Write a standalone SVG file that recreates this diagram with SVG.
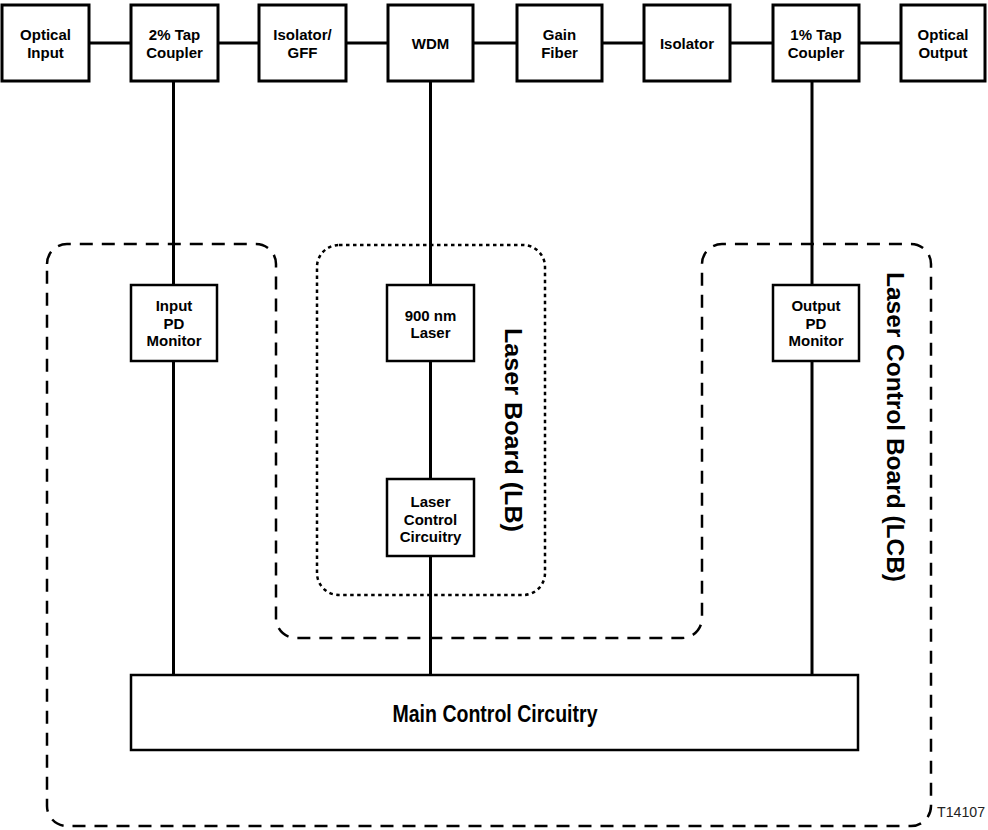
<svg xmlns="http://www.w3.org/2000/svg" width="988" height="830" viewBox="0 0 988 830">
  <style>
    .box { fill: #fff; stroke: #000; stroke-width: 3; }
    .mbox { fill: #fff; stroke: #000; stroke-width: 2.5; }
    .wire { fill: none; stroke: #000; stroke-width: 3; }
    .lcb { fill: none; stroke: #000; stroke-width: 2.5; stroke-dasharray: 13 9; }
    .lb { fill: none; stroke: #000; stroke-width: 2.5; stroke-dasharray: 3.5 3.5; }
    .t { font-family: "Liberation Sans", Arial, sans-serif; font-weight: bold; font-size: 15px; fill: #000; text-anchor: middle; }
    .big { font-family: "Liberation Sans", Arial, sans-serif; font-weight: bold; font-size: 23px; fill: #000; text-anchor: middle; }
    .tag { font-family: "Liberation Sans", Arial, sans-serif; font-size: 14px; fill: #222; }
  </style>

  <!-- board outlines -->
  <g id="laser-control-board">
    <path class="lcb" d="M47,264 A20,20 0 0 1 67,244 H256 A20,20 0 0 1 276,264 V618 A20,20 0 0 0 296,638 H682 A20,20 0 0 0 702,618 V264 A20,20 0 0 1 722,244 H911 A20,20 0 0 1 931,264 V806 A20,20 0 0 1 911,826 H67 A20,20 0 0 1 47,806 Z"/>
    <text class="big" transform="translate(895,427) rotate(90)" x="0" y="8" textLength="310" lengthAdjust="spacingAndGlyphs">Laser Control Board (LCB)</text>
  </g>
  <g id="laser-board">
    <rect class="lb" x="317" y="245" width="228" height="350" rx="22" ry="22"/>
    <text class="big" transform="translate(513,430) rotate(90)" x="0" y="8" textLength="204" lengthAdjust="spacingAndGlyphs">Laser Board (LB)</text>
  </g>

  <!-- connectors -->
  <g id="connectors">
    <line class="wire" x1="89" y1="43" x2="131" y2="43"/>
    <line class="wire" x1="218" y1="43" x2="259" y2="43"/>
    <line class="wire" x1="346" y1="43" x2="388" y2="43"/>
    <line class="wire" x1="473" y1="43" x2="517" y2="43"/>
    <line class="wire" x1="602" y1="43" x2="644" y2="43"/>
    <line class="wire" x1="730" y1="43" x2="773" y2="43"/>
    <line class="wire" x1="859" y1="43" x2="901" y2="43"/>
    <line class="wire" x1="173.5" y1="81" x2="173.5" y2="675"/>
    <line class="wire" x1="430.5" y1="81" x2="430.5" y2="675"/>
    <line class="wire" x1="812" y1="81" x2="812" y2="675"/>
  </g>

  <!-- optical path -->
  <g id="optical-input">
    <rect class="box" x="2" y="5" width="87" height="76"/>
    <text class="t" x="45.5" y="40">Optical</text>
    <text class="t" x="45.5" y="58">Input</text>
  </g>
  <g id="tap-coupler-2">
    <rect class="box" x="131" y="5" width="87" height="76"/>
    <text class="t" x="174.5" y="40">2% Tap</text>
    <text class="t" x="174.5" y="58">Coupler</text>
  </g>
  <g id="isolator-gff">
    <rect class="box" x="259" y="5" width="87" height="76"/>
    <text class="t" x="302.5" y="40">Isolator/</text>
    <text class="t" x="302.5" y="58">GFF</text>
  </g>
  <g id="wdm">
    <rect class="box" x="388" y="5" width="85" height="76"/>
    <text class="t" x="430.5" y="49">WDM</text>
  </g>
  <g id="gain-fiber">
    <rect class="box" x="517" y="5" width="85" height="76"/>
    <text class="t" x="559.5" y="40">Gain</text>
    <text class="t" x="559.5" y="58">Fiber</text>
  </g>
  <g id="isolator">
    <rect class="box" x="644" y="5" width="86" height="76"/>
    <text class="t" x="687" y="49">Isolator</text>
  </g>
  <g id="tap-coupler-1">
    <rect class="box" x="773" y="5" width="86" height="76"/>
    <text class="t" x="816" y="40">1% Tap</text>
    <text class="t" x="816" y="58">Coupler</text>
  </g>
  <g id="optical-output">
    <rect class="box" x="901" y="5" width="84" height="76"/>
    <text class="t" x="943" y="40">Optical</text>
    <text class="t" x="943" y="58">Output</text>
  </g>

  <!-- control electronics -->
  <g id="input-pd-monitor">
    <rect class="mbox" x="131" y="285" width="86" height="76"/>
    <text class="t" x="174" y="311">Input</text>
    <text class="t" x="174" y="328.5">PD</text>
    <text class="t" x="174" y="346">Monitor</text>
  </g>
  <g id="laser-900nm">
    <rect class="mbox" x="387" y="285" width="87" height="76"/>
    <text class="t" x="430.5" y="321">900 nm</text>
    <text class="t" x="430.5" y="338">Laser</text>
  </g>
  <g id="output-pd-monitor">
    <rect class="mbox" x="773" y="285" width="86" height="76"/>
    <text class="t" x="816" y="311">Output</text>
    <text class="t" x="816" y="328.5">PD</text>
    <text class="t" x="816" y="346">Monitor</text>
  </g>
  <g id="laser-control-circuitry">
    <rect class="mbox" x="387" y="479" width="87" height="77"/>
    <text class="t" x="430.5" y="507">Laser</text>
    <text class="t" x="430.5" y="525">Control</text>
    <text class="t" x="430.5" y="542">Circuitry</text>
  </g>
  <g id="main-control-circuitry">
    <rect class="mbox" x="131" y="675" width="727" height="75"/>
    <text class="big" x="495" y="722" textLength="205" lengthAdjust="spacingAndGlyphs">Main Control Circuitry</text>
  </g>

  <text class="tag" x="937" y="817" textLength="48" lengthAdjust="spacingAndGlyphs">T14107</text>
</svg>
